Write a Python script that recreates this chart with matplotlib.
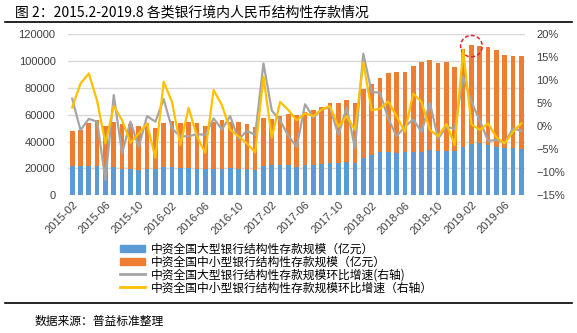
import numpy as np
import pandas as pd
import matplotlib
matplotlib.use('Agg')
import matplotlib.pyplot as plt
from matplotlib.patches import Ellipse, Patch
from matplotlib.lines import Line2D
from matplotlib.ticker import FuncFormatter

plt.rcParams['font.family'] = ['Liberation Sans', 'Noto Sans CJK SC', 'DejaVu Sans']
plt.rcParams['axes.unicode_minus'] = True

months = pd.date_range('2015-02-01', periods=55, freq='MS').strftime('%Y-%m').tolist()

# 中资全国大型银行结构性存款规模（亿元）
large = [22000, 22000, 22000, 22000, 19500, 20900, 19400, 19400, 18900, 19400,
         19400, 20900, 20900, 20200, 20200, 19400, 19400, 19400, 19400, 20200,
         19400, 19400, 18900, 21900, 22400, 22400, 22400, 21200, 22400, 22400,
         23400, 23900, 23900, 24900, 23900, 27900, 29900, 31900, 32400, 31400,
         32400, 32400, 32400, 33900, 32900, 32900, 32900, 35600, 38400, 38900,
         37400, 35900, 35400, 35400, 34400]
# 中资全国中小型银行结构性存款规模（亿元）
small = [26000, 26800, 31800, 34300, 32100, 33600, 33400, 33400, 32700, 34100,
         30700, 32600, 34400, 33300, 34300, 34100, 32200, 35100, 36600, 34100,
         35100, 33400, 31900, 35600, 34600, 36600, 38100, 38600, 39600, 41100,
         42100, 44800, 44800, 46100, 44800, 51300, 53000, 55500, 58800, 60500,
         59500, 64000, 67000, 67000, 65700, 66500, 62700, 73200, 73700, 72400,
         73200, 72400, 69500, 68700, 69700]
# 环比增速 (%)
large_mom = [6.0, -0.85, 1.6, 1.0, -11.7, 6.8, -5.9, 1.0, -4.5, 2.2,
             1.0, 5.9, -0.5, -2.2, -2.2, -1.7, -1.9, 1.7, -0.7, 2.2,
             -2.9, -1.0, -1.9, 13.7, 3.4, 1.3, -2.2, -4.5, 4.8, 1.9,
             3.7, 4.1, -1.9, 4.1, -4.8, 15.8, 7.5, 7.3, 1.7, -2.2,
             -0.1, 1.5, -1.2, 5.1, -2.7, -0.1, -0.6, 10.8, 5.3, 1.3,
             -3.2, -3.0, -3.6, -0.5, -1.0]
small_mom = [4.1, 9.3, 11.5, 5.5, -3.75, 4.4, 1.3, -3.6, -1.6, 0.6,
             -6.9, 9.7, 5.3, -4.1, 4.0, -2.2, -5.8, 7.9, 4.6, -0.8,
             -2.2, -3.75, -5.7, 10.8, -2.5, 5.3, 3.5, 1.3, 2.8, 2.2,
             3.65, 4.4, -0.1, 2.2, -0.8, 13.9, 3.5, 3.8, 5.4, 2.2,
             -1.2, 7.1, 5.3, -0.8, -2.2, 0.5, -4.1, 16.6, 0.4, -0.8,
             0.6, -2.4, -3.75, -1.2, 0.6]
highlight = 48

labels = ['中资全国大型银行结构性存款规模（亿元）',
          '中资全国中小型银行结构性存款规模（亿元）',
          '中资全国大型银行结构性存款规模环比增速(右轴)',
          '中资全国中小型银行结构性存款规模环比增速（右轴）']

c_blue, c_orange, c_gray, c_yellow = '#5B9BD5', '#ED7D31', '#A5A5A5', '#FFC000'
cjk = ['Noto Sans CJK SC', 'DejaVu Sans']

fig = plt.figure(figsize=(5.77, 3.33), dpi=100)
ax = fig.add_axes([0.1179, 0.4144, 0.7928, 0.482])
x = np.arange(len(months))

ax.bar(x, large, 0.56, color=c_blue, zorder=2)
ax.bar(x, small, 0.56, bottom=large, color=c_orange, zorder=2)
ax.set_ylim(0, 120000)
ax.set_yticks(np.arange(0, 120001, 20000))
ax.set_xlim(-0.5, len(months) - 0.5)
ax.grid(axis='y', color='#D9D9D9', linewidth=1, zorder=0)
for s in ax.spines.values():
    s.set_visible(False)
ax.tick_params(axis='both', length=0, labelsize=8, colors='#404040')
ax.tick_params(axis='y', pad=9)
ax.set_xticks(x[::4])
ax.set_xticklabels(months[::4], rotation=45, ha='right', rotation_mode='anchor')

ax2 = ax.twinx()
ax2.plot(x, large_mom, color=c_gray, linewidth=1.6, zorder=3)
ax2.plot(x, small_mom, color=c_yellow, linewidth=1.6, zorder=4)
ax2.set_ylim(-15, 20)
ax2.set_yticks(np.arange(-15, 21, 5))
ax2.yaxis.set_major_formatter(FuncFormatter(lambda v, p: f'{v:.0f}%'.replace('-', '\u2212')))
for s in ax2.spines.values():
    s.set_visible(False)
ax2.tick_params(axis='y', length=0, labelsize=8, colors='#404040', pad=8)

top = large[highlight] + small[highlight]
ax.add_patch(Ellipse((highlight, top - 800), 2.6, 16000, fill=False, edgecolor='#E8202A',
                     linestyle=(0, (2.5, 1.5)), linewidth=1.1, zorder=5, clip_on=False))

fig.text(0.026, 0.963, '图 2：2015.2-2019.8 各类银行境内人民币结构性存款情况',
         fontsize=10, family=cjk, va='center', ha='left')
fig.add_artist(Line2D([0.009, 0.991], [0.935, 0.935], color='black', linewidth=1.2))
fig.add_artist(Line2D([0.009, 0.991], [0.091, 0.091], color='black', linewidth=1.2))
fig.text(0.06, 0.035, '数据来源：普益标准整理', fontsize=8.5, family=cjk, va='center', ha='left')

handles = [Patch(color=c_blue), Patch(color=c_orange),
           Line2D([], [], color=c_gray, linewidth=2), Line2D([], [], color=c_yellow, linewidth=2)]
leg = fig.legend(handles, labels, loc='upper left', bbox_to_anchor=(0.208, 0.272),
                 frameon=False, prop={'family': cjk, 'size': 8.5},
                 handlelength=2.1, handleheight=0.6, handletextpad=0.5,
                 labelspacing=0.0, borderaxespad=0, borderpad=0)

fig.savefig('out.png', dpi=100)
